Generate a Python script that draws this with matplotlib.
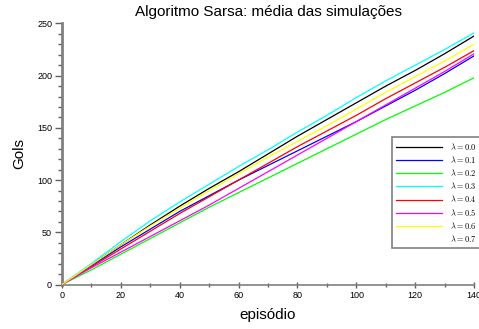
import numpy as np
import matplotlib
matplotlib.use("Agg")
import matplotlib.pyplot as plt

plt.rcParams['font.family'] = ['Liberation Sans', 'DejaVu Sans']
plt.rcParams['mathtext.fontset'] = 'cm'

# episodes (every 10) and mean goals per lambda
episodes = [0, 10, 20, 30, 40, 50, 60, 70, 80, 90, 100, 110, 120, 130, 140]
lam00 = [0, 19, 38, 57, 75, 92, 108, 125, 142, 158, 174, 190, 205, 221, 238]
lam01 = [0, 18, 36, 53, 70, 85, 100, 114, 128, 142, 156, 171, 186, 202, 219]
lam02 = [0, 14, 29, 44, 59, 74, 88, 102, 116, 130, 144, 158, 171, 184, 198]
lam03 = [0, 20, 41, 61, 79, 96, 113, 129, 146, 162, 179, 195, 210, 225, 241]
lam04 = [0, 17, 34, 51, 68, 84, 100, 116, 132, 147, 162, 178, 193, 208, 224]
lam05 = [0, 16, 31, 46, 61, 76, 92, 108, 124, 140, 156, 172, 188, 204, 221]
lam06 = [0, 19, 38, 56, 73, 90, 106, 122, 137, 152, 168, 184, 199, 214, 230]
lam07 = [0, 18, 36, 54, 71, 87, 103, 118, 134, 149, 164, 180, 195, 210, 226]

labels = ['$\\lambda = 0.0$', '$\\lambda = 0.1$', '$\\lambda = 0.2$', '$\\lambda = 0.3$',
          '$\\lambda = 0.4$', '$\\lambda = 0.5$', '$\\lambda = 0.6$', '$\\lambda = 0.7$']
series = [lam00, lam01, lam02, lam03, lam04, lam05, lam06, lam07]
colors = ['#000000', '#0000ff', '#00ff00', '#00ffff', '#ff0000', '#ff00ff', '#ffff00', '#ffffff']

fig = plt.figure(figsize=(4.79, 3.29), dpi=100)
ax = fig.add_axes([0.129, 0.135, 0.861, 0.794])

for i in range(len(series)):
    z = 1 if i == 7 else 3
    ax.plot(episodes, series[i], color=colors[i], lw=0.9, label=labels[i], zorder=z)

ax.set_xlim(0, 140)
ax.set_ylim(0, 250)
ax.set_xticks(np.arange(0, 141, 20))
ax.set_xticks(np.arange(0, 141, 10), minor=True)
ax.set_yticks(np.arange(0, 251, 50))
ax.set_yticks(np.arange(0, 251, 10), minor=True)

for s in ['top', 'right']:
    ax.spines[s].set_visible(False)
ax.spines['left'].set_color('#808080')
ax.spines['left'].set_linewidth(2)
ax.spines['bottom'].set_color('#808080')
ax.spines['bottom'].set_linewidth(1.2)

ax.tick_params(axis='both', which='major', labelsize=6.5, length=5, width=1, color='#606060', pad=2)
ax.tick_params(axis='both', which='minor', length=3, width=1, color='#606060')
ax.tick_params(axis='x', which='both', direction='inout')

ax.set_title('Algoritmo Sarsa: média das simulações', fontsize=11, pad=5)
ax.set_xlabel('episódio', fontsize=11, labelpad=6)
ax.set_ylabel('Gols', fontsize=11)
ax.yaxis.set_label_coords(-0.085, 0.5)

leg = ax.legend(loc='upper left', bbox_to_anchor=(0.80, 0.565), fontsize=6,
                frameon=True, fancybox=False, edgecolor='#808080', framealpha=1,
                handlelength=5.5, labelspacing=0.25, borderpad=0.5, handletextpad=1.0,
                borderaxespad=0)
leg.get_frame().set_linewidth(1.2)

fig.savefig('out.png', dpi=100)
